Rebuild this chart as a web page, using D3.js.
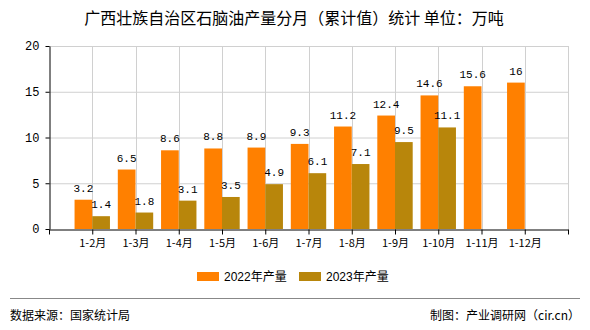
<!DOCTYPE html>
<html><head><meta charset="utf-8">
<script src="https://cdn.jsdelivr.net/npm/d3@7"></script>
<style>body{margin:0;background:#fff;}svg{display:block;}</style>
</head><body>
<script>
const categories = ["1-2月","1-3月","1-4月","1-5月","1-6月","1-7月","1-8月","1-9月","1-10月","1-11月","1-12月"];
const values2022 = [3.2,6.5,8.6,8.8,8.9,9.3,11.2,12.4,14.6,15.6,16];
const values2023 = [1.4,1.8,3.1,3.5,4.9,6.1,7.1,9.5,11.1];
const seriesNames = ["2022年产量","2023年产量"];
const colors = ["#FF8000","#B8860B"];
const yTicks = [0,5,10,15,20];

const W=590,H=330;
const svg=d3.select("body").append("svg").attr("width",W).attr("height",H);
const x=d3.scaleLinear().domain([0,12]).range([49,568]);
const y=d3.scaleLinear().domain([0,20]).range([229,46]);
const bw=17.7;
const cjk="'Noto Sans CJK SC','Noto Sans',sans-serif";
const mono="'Liberation Mono','DejaVu Sans Mono',monospace";

svg.append("text").attr("x",294).attr("y",24).attr("text-anchor","middle")
  .attr("font-family",cjk).attr("font-size",16).attr("fill","#000")
  .text("广西壮族自治区石脑油产量分月（累计值）统计 单位：万吨");

// grid
const g=svg.append("g");
g.selectAll(".hg").data(yTicks.filter(d=>d>0)).enter().append("line")
  .attr("x1",x(0)).attr("x2",x(12)).attr("y1",d=>y(d)+0.5).attr("y2",d=>y(d)+0.5)
  .attr("stroke","#d0d0d0");
g.selectAll(".vg").data(d3.range(1,13)).enter().append("line")
  .attr("x1",d=>Math.round(x(d))+0.5).attr("x2",d=>Math.round(x(d))+0.5).attr("y1",y(20)).attr("y2",y(0))
  .attr("stroke","#d0d0d0");

// bars
svg.selectAll(".b1").data(values2022).enter().append("rect")
  .attr("x",(d,i)=>x(i+1)-bw).attr("width",bw)
  .attr("y",d=>y(d)).attr("height",d=>y(0)-y(d)).attr("fill",colors[0]);
svg.selectAll(".b2").data(values2023).enter().append("rect")
  .attr("x",(d,i)=>x(i+1)).attr("width",bw)
  .attr("y",d=>y(d)).attr("height",d=>y(0)-y(d)).attr("fill",colors[1]);

// labels
svg.selectAll(".l1").data(values2022).enter().append("text")
  .attr("x",(d,i)=>x(i+1)-bw/2).attr("y",d=>y(d)-8).attr("text-anchor","middle")
  .attr("font-family",mono).attr("font-size",11).attr("fill","#000").text(d=>d);
svg.selectAll(".l2").data(values2023).enter().append("text")
  .attr("x",(d,i)=>x(i+1)+bw/2).attr("y",d=>y(d)-8).attr("text-anchor","middle")
  .attr("font-family",mono).attr("font-size",11).attr("fill","#000").text(d=>d);

// axes
const yAxis=d3.axisLeft(y).tickValues(yTicks).tickSize(4).tickSizeOuter(0);
const ya=svg.append("g").attr("transform","translate(49.5,0)").call(yAxis);
ya.select(".domain").attr("stroke","#000");
ya.selectAll("text").attr("font-family",mono).attr("font-size",12).attr("fill","#000").attr("dx","-3");

const xAxis=d3.axisBottom(x).tickValues(d3.range(0,13)).tickSize(5).tickSizeOuter(0)
  .tickFormat(d=>(d>=1&&d<=categories.length)?categories[d-1]:"");
const xa=svg.append("g").attr("transform","translate(0,229.5)").call(xAxis);
xa.select(".domain").attr("stroke","#000");
xa.selectAll("text").attr("font-family",cjk).attr("font-size",11).attr("fill","#000").attr("dy","0.9em");

// legend
const lg=svg.append("g");
[[197,0],[299,1]].forEach(([lx,i])=>{
  lg.append("rect").attr("x",lx).attr("y",272).attr("width",22).attr("height",9).attr("fill",colors[i]);
  lg.append("text").attr("x",lx+27).attr("y",281).attr("font-family","'Liberation Sans',"+cjk)
    .attr("font-size",12).attr("fill","#000").text(seriesNames[i]);
});

// footer
svg.append("line").attr("x1",10).attr("x2",580).attr("y1",298.5).attr("y2",298.5).attr("stroke","#888");
svg.append("text").attr("x",10).attr("y",320).attr("font-family",cjk).attr("font-size",12).attr("fill","#000").text("数据来源：国家统计局");
svg.append("text").attr("x",580).attr("y",320).attr("text-anchor","end").attr("font-family",cjk).attr("font-size",12).attr("fill","#000").text("制图：产业调研网（cir.cn）");
</script>
</body></html>
